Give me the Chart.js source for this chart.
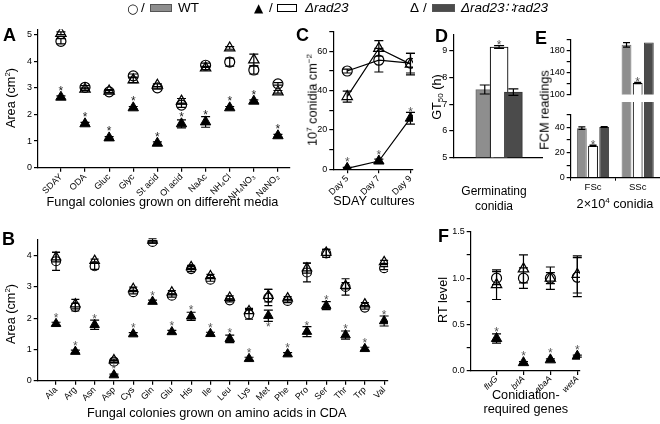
<!DOCTYPE html>
<html><head><meta charset="utf-8">
<script src="https://cdn.jsdelivr.net/npm/chart.js@4.4.1/dist/chart.umd.min.js"></script>
<style>
body{margin:0;background:#fff;width:660px;height:424px;overflow:hidden;position:relative;font-family:'Liberation Sans',Arial,sans-serif;}
canvas{position:absolute;}
.t{position:absolute;white-space:nowrap;font-size:12.7px;color:#000;line-height:1;transform:translate(-50%,-50%);}
.r{transform:translate(-50%,-50%) rotate(-90deg);}
.L{position:absolute;font-weight:bold;font-size:18px;line-height:1;}
.lg{position:absolute;font-size:13.5px;line-height:1;white-space:nowrap;}
.sym{position:absolute;font-family:'DejaVu Sans',sans-serif;font-size:12px;line-height:1;white-space:nowrap;}
.box{position:absolute;height:8px;border:1px solid #555;box-sizing:border-box;}
i{font-style:italic;}
</style></head><body>
<script>
// ---------- DATA ----------
const mediaCats = ['SDAY','ODA','Gluc','Glyc','St acid','Ol acid','NaAc','NH₄Cl','NH₄NO₃','NaNO₂'];
const mediaWT = [4.75, 3.02, 2.85, 3.45, 3.0, 2.35, 3.85, 3.97, 3.67, 3.15];
const mediaWTErr = [0.1, 0.06, 0.05, 0.07, 0.05, 0.08, 0.08, 0.15, 0.15, 0.05];
const mediaComp = [5.05, 2.95, 2.88, 3.3, 3.1, 2.5, 3.75, 4.5, 4.05, 2.85];
const mediaCompErr = [0.05, 0.05, 0.05, 0.1, 0.05, 0.1, 0.06, 0.05, 0.22, 0.05];
const mediaMut = [2.65, 1.65, 1.12, 2.25, 0.92, 1.65, 1.72, 2.25, 2.5, 1.2];
const mediaMutErr = [0.05, 0.05, 0.05, 0.05, 0.05, 0.15, 0.2, 0.05, 0.05, 0.05];

const aaCats = ['Ala','Arg','Asn','Asp','Cys','Gln','Glu','His','Ile','Leu','Lys','Met','Phe','Pro','Ser','Thr','Trp','Val'];
const aaWT = [3.82, 2.35, 3.66, 0.61, 2.83, 4.44, 2.72, 3.57, 3.23, 2.57, 2.12, 2.66, 2.55, 3.46, 4.07, 3.0, 2.34, 3.6];
const aaWTErr = [0.29, 0.12, 0.1, 0.03, 0.05, 0.04, 0.05, 0.08, 0.05, 0.05, 0.15, 0.26, 0.05, 0.3, 0.13, 0.26, 0.05, 0.05];
const aaComp = [3.95, 2.45, 3.84, 0.66, 2.94, 4.49, 2.83, 3.64, 3.35, 2.66, 2.23, 2.72, 2.64, 3.6, 4.1, 3.04, 2.45, 3.8];
const aaCompErr = [0.15, 0.15, 0.05, 0.03, 0.05, 0.05, 0.05, 0.05, 0.05, 0.05, 0.08, 0.2, 0.05, 0.16, 0.1, 0.1, 0.05, 0.05];
const aaMut = [1.82, 0.93, 1.79, 0.18, 1.49, 2.53, 1.56, 2.06, 1.5, 1.34, 0.7, 2.08, 0.85, 1.57, 2.4, 1.46, 1.02, 1.91];
const aaMutErr = [0.05, 0.05, 0.15, 0.03, 0.05, 0.05, 0.05, 0.13, 0.05, 0.12, 0.05, 0.18, 0.05, 0.16, 0.13, 0.13, 0.05, 0.16];
const aaStarBelow = ['Met'];

const days = ['Day 5','Day 7','Day 9'];
const conWT = [50, 55.5, 54];
const conWTErr = [1, 6, 5];
const conComp = [37, 61.5, 53.5];
const conCompErr = [2.8, 4, 5.5];
const conMut = [0.5, 4.2, 26];
const conMutErr = [0.5, 1, 3];

const strains = ['WT','Δrad23','Δrad23::rad23'];
const gt50 = [7.55, 9.15, 7.45];
const gt50Err = [0.17, 0.05, 0.12];

const fcmCats = ['FSc','SSc'];
const fcmWT = [39.5, 190];
const fcmWTErr = [1, 4];
const fcmMut = [25.5, 121];
const fcmMutErr = [0.5, 1];
const fcmComp = [40.5, 194];
const fcmCompErr = [0.3, 0];

const genes = ['fluG','brlA','abaA','wetA'];
const rtWT = [1.0, 1.0, 1.0, 1.01];
const rtWTErr = [0.07, 0.11, 0.06, 0.21];
const rtComp = [0.93, 1.1, 1.0, 1.04];
const rtCompErr = [0.16, 0.15, 0.12, 0.2];
const rtMut = [0.35, 0.09, 0.12, 0.16];
const rtMutErr = [0.05, 0.01, 0.01, 0.01];

// ---------- STYLE ----------
const FONT = "'Liberation Sans', Arial, sans-serif";
Chart.defaults.font.family = FONT;
Chart.defaults.color = '#000';
const GRAY = '#8e8e8e', DARK = '#4b4b4b';

// error bars + asterisks plugin
const errPlugin = {
  id: 'err',
  afterDatasetsDraw(chart) {
    const ctx = chart.ctx, ys = chart.scales.y;
    chart.data.datasets.forEach((ds, di) => {
      const meta = chart.getDatasetMeta(di);
      ctx.save();
      meta.data.forEach((el, i) => {
        const d = ds.data[i];
        const val = (typeof d === 'object') ? d.y : d;
        const e = ds.errors ? ds.errors[i] : 0;
        const cw = ds.capW || 4.5;
        if (e) {
          const yt = ys.getPixelForValue(val + e), yb = ys.getPixelForValue(val - e);
          ctx.strokeStyle = '#000'; ctx.lineWidth = 1.2;
          ctx.beginPath();
          ctx.moveTo(el.x, yt); ctx.lineTo(el.x, yb);
          ctx.moveTo(el.x - cw, yt); ctx.lineTo(el.x + cw, yt);
          ctx.moveTo(el.x - cw, yb); ctx.lineTo(el.x + cw, yb);
          ctx.stroke();
        }
        const star = Array.isArray(ds.stars) ? ds.stars[i] : ds.stars;
        if (star) {
          const below = ds.starBelow && ds.starBelow.includes(i);
          ctx.font = (ds.starSize || 12) + 'px ' + FONT;
          ctx.fillStyle = ds.starColor || '#222';
          ctx.textAlign = 'center'; ctx.textBaseline = 'alphabetic';
          const r = ds.markR || 0;
          if (below) {
            const bot = Math.max(el.y + r * 0.5, e ? ys.getPixelForValue(val - e) : 0);
            ctx.fillText('*', el.x, bot + 10);
          } else {
            const top = Math.min(el.y - r, e ? ys.getPixelForValue(val + e) : 1e9);
            ctx.fillText('*', el.x, top + 3.5);
          }
        }
      });
      ctx.restore();
    });
  }
};

function mk(box, area, yW, xH, cfg) {
  const c = document.createElement('canvas');
  c.width = box.w; c.height = box.h;
  c.style.left = box.l + 'px'; c.style.top = box.t + 'px';
  c.style.width = box.w + 'px'; c.style.height = box.h + 'px';
  document.body.appendChild(c);
  const o = cfg.options;
  o.responsive = false; o.animation = false; o.events = [];
  o.plugins = Object.assign({ legend: { display: false }, tooltip: { enabled: false } }, o.plugins || {});
  o.layout = { padding: { left: area.l - box.l - yW, top: area.t - box.t, right: box.l + box.w - area.r, bottom: box.t + box.h - area.b - xH } };
  o.scales.y.afterFit = s => { s.width = yW; };
  o.scales.x.afterFit = s => { s.height = xH; };
  cfg.plugins = [errPlugin];
  return new Chart(c, cfg);
}

function yAxis(min, max, step, labelFn, extra) {
  return Object.assign({
    type: 'linear', min, max,
    border: { color: '#000', width: 1.2 },
    grid: { drawOnChartArea: false, drawTicks: true, tickLength: 4, color: '#000', lineWidth: 1.2 },
    ticks: { stepSize: step, includeBounds: false, padding: 2, font: { size: 9 }, color: '#000', autoSkip: false, callback: labelFn }
  }, extra || {});
}
function xCatLinear(cats, min, max, fontOpts, pad) {
  return {
    type: 'linear', min, max,
    border: { color: '#000', width: 1.2 },
    grid: { drawOnChartArea: false, drawTicks: true, tickLength: 4, color: '#000', lineWidth: 1.2 },
    afterBuildTicks: s => { s.ticks = cats.map((c, i) => ({ value: i })); },
    ticks: { autoSkip: false, minRotation: 45, maxRotation: 45, padding: pad === undefined ? 0 : pad, font: fontOpts || { size: 9 }, color: '#000',
      callback: v => cats[v] !== undefined ? cats[v] : '' }
  };
}
const pts = arr => arr.map((v, i) => ({ x: i, y: v }));
function scatterSets(wt, wtE, mut, mutE, comp, compE, rC, rT, extra) {
  extra = extra || {};
  return [
    Object.assign({ label: 'WT', data: pts(wt), errors: wtE, pointStyle: 'circle', pointRadius: rC, borderColor: '#000', backgroundColor: 'rgba(0,0,0,0)', pointBorderWidth: 1.2, borderWidth: 1.2 }, extra.wt || {}),
    Object.assign({ label: 'Δrad23', data: pts(mut), errors: mutE, pointStyle: 'triangle', pointRadius: rT, borderColor: '#000', backgroundColor: '#000', pointBorderWidth: 1, borderWidth: 1.2, stars: true, markR: rT }, extra.mut || {}),
    Object.assign({ label: 'Δrad23::rad23', data: pts(comp), errors: compE, pointStyle: 'triangle', pointRadius: rT, borderColor: '#000', backgroundColor: 'rgba(0,0,0,0)', pointBorderWidth: 1.2, borderWidth: 1.2 }, extra.comp || {})
  ];
}
const PAGE = { l: 0, t: 0, w: 660, h: 424 };

// ---------- A ----------
mk(PAGE, { l: 38, t: 29.3, r: 290, b: 167.7 }, 30, 36, {
  type: 'scatter',
  data: { datasets: scatterSets(mediaWT, mediaWTErr, mediaMut, mediaMutErr, mediaComp, mediaCompErr, 5, 6) },
  options: { scales: { x: xCatLinear(mediaCats, -0.95, 9.5), y: yAxis(0, 5.2, 1, v => v) } }
});

// ---------- B ----------
const bStarIdx = aaStarBelow.map(c => aaCats.indexOf(c));
mk(PAGE, { l: 37.7, t: 240, r: 388, b: 380.7 }, 30, 30, {
  type: 'scatter',
  data: { datasets: scatterSets(aaWT, aaWTErr, aaMut, aaMutErr, aaComp, aaCompErr, 4.5, 5.5,
    { mut: { starBelow: bStarIdx, starColor: '#555' }, wt: { capW: 4 }, comp: { capW: 4 } }) },
  options: { scales: { x: xCatLinear(aaCats, -0.95, 17.2), y: yAxis(0, 4.5, 1, v => v) } }
});

// ---------- C ----------
mk(PAGE, { l: 333.3, t: 31.7, r: 413, b: 169.3 }, 30, 30, {
  type: 'scatter',
  data: { datasets: scatterSets(conWT, conWTErr, conMut, conMutErr, conComp, conCompErr, 5, 6,
    { wt: { showLine: true }, mut: { showLine: true, starColor: '#555' }, comp: { showLine: true } }) },
  options: { scales: { x: xCatLinear(days, -0.44, 2.08), y: yAxis(0, 70, 10, v => v % 20 === 0 ? v : '') } }
});

// ---------- D ----------
mk(PAGE, { l: 453.3, t: 35, r: 542, b: 157.3 }, 30, 0, {
  type: 'bar',
  data: { datasets: [{ label: 'GT50', data: pts(gt50), errors: gt50Err, capW: 5,
    backgroundColor: [GRAY, '#fff', DARK], borderColor: ['#6e6e6e', '#000', '#3a3a3a'], borderWidth: 1.1,
    barThickness: 18, stars: [false, true, false], starColor: '#555' }] },
  options: { scales: {
    x: { type: 'linear', min: -0.65, max: 2.45, border: { color: '#000', width: 1.2 }, grid: { display: false }, ticks: { display: false } },
    y: yAxis(5, 9.6, 1, v => v) } }
});

// ---------- E (broken axis: top + bottom) ----------
function fcmSets(clip, starFlags) {
  const common = { categoryPercentage: 0.75, barPercentage: 0.88, capW: 3.5, clip: clip };
  return [
    Object.assign({ label: 'WT', data: fcmWT, errors: fcmWTErr, backgroundColor: GRAY, borderColor: '#6e6e6e', borderWidth: 1 }, common),
    Object.assign({ label: 'Δrad23', data: fcmMut, errors: fcmMutErr, backgroundColor: '#fff', borderColor: '#000', borderWidth: 1.1, stars: starFlags, starColor: '#555' }, common),
    Object.assign({ label: 'Δrad23::rad23', data: fcmComp, errors: fcmCompErr, backgroundColor: DARK, borderColor: '#3a3a3a', borderWidth: 1 }, common)
  ];
}
mk({ l: 480, t: 20, w: 180, h: 82 }, { l: 570.7, t: 39.3, r: 660, b: 102 }, 30, 0, {
  type: 'bar',
  data: { labels: fcmCats, datasets: fcmSets(undefined, [false, true]) },
  options: { scales: { x: { type: 'category', display: false }, y: yAxis(100, 200, 20, v => (v - 100) % 40 === 0 ? v : '') } }
});
mk({ l: 480, t: 102, w: 180, h: 95 }, { l: 570.7, t: 115, r: 660, b: 177.7 }, 30, 17.3, {
  type: 'bar',
  data: { labels: fcmCats, datasets: fcmSets(false, [true, false]) },
  options: { scales: {
    x: { type: 'category', border: { color: '#000', width: 1.2 }, grid: { drawOnChartArea: false, tickLength: 3, color: '#000' }, ticks: { padding: 1, font: { size: 9.5 }, color: '#000' } },
    y: yAxis(0, 50, 10, v => v % 20 === 0 ? v : '') } }
});

// ---------- F ----------
mk(PAGE, { l: 470.7, t: 231.7, r: 580, b: 371 }, 30, 30, {
  type: 'scatter',
  data: { datasets: scatterSets(rtWT, rtWTErr, rtMut, rtMutErr, rtComp, rtCompErr, 5, 6, { mut: { starColor: '#555' } }) },
  options: { scales: { x: xCatLinear(genes, -0.96, 3.1, { size: 8.5, style: 'italic' }, -1), y: yAxis(0, 1.5, 0.25, v => (Math.round(v * 100) % 50 === 0) ? v.toFixed(1) : '') } }
});

// ---------- TEXT ----------
function txt(html, x, y, cls, style) {
  const d = document.createElement('div');
  d.className = cls || 't';
  d.innerHTML = html;
  d.style.left = x + 'px'; d.style.top = y + 'px';
  if (style) d.style.cssText += style;
  document.body.appendChild(d);
}
const SUP = 'font-size:8px;vertical-align:5px;line-height:0';
// panel letters
txt('A', 3, 26, 'L'); txt('B', 2, 230, 'L'); txt('C', 296, 26, 'L');
txt('D', 435, 27, 'L'); txt('E', 535, 29, 'L'); txt('F', 438, 227, 'L');
// axis titles
txt('Fungal colonies grown on different media', 162.5, 202);
txt('Fungal colonies grown on amino acids in CDA', 216.7, 413);
txt('SDAY cultures', 374, 201);
txt('Germinating', 494, 191, 't', 'font-size:12px;');
txt('conidia', 494, 206, 't', 'font-size:12px;');
txt('2×10<sup style="' + SUP + '">4</sup> conidia', 615, 204);
txt('Conidiation-', 525.8, 395);
txt('required genes', 525.8, 409);
txt('Area (cm<sup style="' + SUP + '">2</sup>)', 11, 98, 't r');
txt('Area (cm<sup style="' + SUP + '">2</sup>)', 11, 314, 't r');
txt('10<sup style="' + SUP + '">7</sup> conidia cm<sup style="' + SUP + '">−2</sup>', 313, 100, 't r');
txt('GT<sub style="font-size:8px;vertical-align:-2px;line-height:0">50</sub> (h)', 437, 97, 't r');
txt('FCM readings', 545, 110, 't r');
txt('RT level', 443, 300, 't r');
// legend
txt('○', 127, 1.5, 'sym', 'font-size:13px;');
txt('/', 141, 1, 'lg');
txt('', 150, 3.5, 'box', 'width:22px;background:' + GRAY + ';');
txt('WT', 178, 1, 'lg');
txt('▲', 254, 1.5, 'sym', 'font-size:12px;');
txt('/', 269, 1, 'lg');
txt('', 277, 3.5, 'box', 'width:20px;background:#fff;border-color:#000;');
txt('<i>Δrad23</i>', 305, 1, 'lg');
txt('Δ', 410, 1, 'lg');
txt('/', 423, 1, 'lg');
txt('', 432, 3.5, 'box', 'width:23px;background:' + DARK + ';');
txt('<i>Δrad23∷rad23</i>', 461, 1, 'lg');
</script>
</body></html>
